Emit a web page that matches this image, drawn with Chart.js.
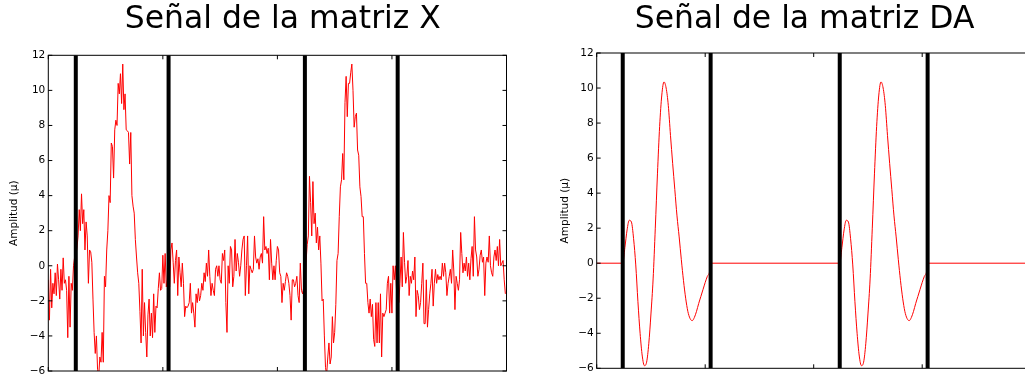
<!DOCTYPE html>
<html>
<head>
<meta charset="utf-8">
<script src="https://cdn.jsdelivr.net/npm/chart.js@4.4.0/dist/chart.umd.min.js"></script>
<style>
  html, body { margin: 0; padding: 0; background: #fff; overflow: hidden; }
  #wrap { position: relative; width: 1025px; height: 378px; overflow: hidden; }
  canvas { position: absolute; top: 0; }
  #chartX { left: 0; }
  #chartDA { left: 555px; }
</style>
</head>
<body>
<div id="wrap">
  <canvas id="chartX" width="565" height="378"></canvas>
  <canvas id="chartDA" width="499" height="378"></canvas>
</div>
<script>
// ---------------------------------------------
// DATA
// ---------------------------------------------
// raw signal (matrix X), one value per sample 0..399
const signalX = [
  -0.8, -3.1, -0.2, -2.4, -1.0, -1.6, -0.4, -1.7, 0.1, -0.8,
  -1.9, -0.2, -1.4, 0.45, -1.0, -0.8, -1.4, -4.1, -0.6, -3.5,
  -1.0, -1.4, 0.0, 0.5, 0.6, 1.0, 1.7, 3.2, 2.0, 4.1,
  2.4, 3.2, 0.9, 2.5, 1.7, -1.0, 0.9, 0.8, 0.2, -1.9,
  -3.8, -5.0, -4.0, -5.9, -6.3, -5.2, -5.5, -3.8, -5.5, -0.6,
  -1.2, 0.9, 2.0, 4.0, 3.6, 7.0, 6.8, 5.0, 7.75, 8.3,
  8.0, 10.4, 9.8, 10.95, 9.25, 11.5, 8.9, 9.8, 7.75, 7.7,
  7.6, 5.8, 7.6, 4.0, 3.4, 3.0, 1.5, 0.5, -0.4, -1.0,
  -2.6, -4.4, -0.2, -4.0, -2.1, -3.8, -5.2, -2.8, -1.9, -4.0,
  -2.7, -4.1, -1.6, -3.8, -2.3, -2.4, -1.3, -0.4, -1.4, -1.3,
  0.6, -1.0, 0.7, -1.2, -0.8, -1.4, -1.2, 0.9, 1.3, 0.2,
  -1.0, 0.3, 0.9, -1.7, 0.5, -0.4, -1.2, 0.15, -1.0, -2.9,
  -2.3, -2.4, -2.3, -2.1, -1.0, -2.7, -2.1, -2.7, -3.5, -1.6,
  -2.1, -1.3, -2.0, -1.7, -1.0, -1.4, -0.4, -0.9, 0.15, -0.6,
  0.9, -0.6, -1.7, -1.0, -1.4, -1.7, -0.2, 0.0, -0.6, 0.0,
  -0.8, -1.0, 0.7, 0.3, 0.9, -2.1, -3.8, 0.0, -1.0, 1.1,
  0.9, -1.2, -0.6, 1.5, -0.3, 0.7, 0.2, -0.6, 0.0, 0.9,
  1.5, 1.7, -1.7, 0.0, 1.7, -1.6, 0.0, -0.2, -0.4, -0.2,
  1.7, 0.5, 0.15, 0.4, -0.2, 0.5, 0.7, 0.15, 2.8, 0.9,
  1.1, 0.7, 1.0, -0.8, 1.5, 0.15, -0.8, 0.0, -0.8, 0.3,
  1.1, 0.9, -0.4, -0.6, -2.1, -1.0, -1.4, -0.9, -0.4, -0.6,
  -1.0, -1.7, -3.1, -0.8, -0.8, -1.2, -1.0, -0.6, -1.7, -2.1,
  0.15, -1.4, -1.6, -1.2, -1.3, 0.2, 1.2, 1.7, 5.1, 3.6,
  1.7, 4.8, 2.4, 3.0, 1.3, 2.2, 0.9, 1.7, 0.15, -2.0,
  -1.9, -4.0, -5.8, -6.2, -5.2, -4.4, -5.6, -5.2, -2.9, -4.4,
  -3.8, -2.2, 0.3, 0.7, 2.8, 4.5, 4.9, 6.4, 4.9, 9.3,
  10.8, 8.5, 10.4, 10.4, 11.0, 11.5, 10.0, 7.9, 8.5, 8.7,
  6.6, 6.3, 4.5, 3.95, 2.8, 2.8, 0.7, -1.0, -1.0, -2.1,
  -2.7, -1.9, -2.9, -2.2, -4.2, -4.6, -2.1, -4.4, -2.1, -4.4,
  -1.6, -5.2, -2.7, -2.9, -2.7, -2.5, -1.0, -0.6, -2.7, -1.0,
  -2.7, 0.0, -0.8, 0.0, -1.4, -0.5, -2.1, -1.0, 0.5, -1.2,
  1.9, 0.2, -1.0, -0.6, 0.3, -1.7, -0.6, -1.0, -0.3, -0.8,
  0.5, -2.9, -1.4, -1.7, -2.5, -2.1, -1.0, 0.15, -3.3, -3.3,
  -0.8, -3.5, -2.5, -1.6, -1.0, -0.2, -2.3, -1.0, -0.2, -1.0,
  -0.5, -0.8, -0.6, -0.8, 0.15, -0.6, 0.15, -0.4, -1.7, -1.0,
  -0.6, -0.2, -1.0, 0.9, -0.3, -2.5, -0.6, -1.0, -1.4, -0.8,
  1.9, 0.7, -0.4, 0.15, -0.3, 0.5, -0.6, 0.15, -0.8, 0.4,
  1.1, -0.6, 2.8, 0.9, 0.5, -0.6, -0.2, 0.6, 0.9, 0.2,
  0.5, -1.7, 0.15, 0.5, 0.2, 1.7, 0.0, -0.4, -0.6, 0.5,
  0.9, 0.3, 1.1, 0.0, 1.5, 0.0, 0.15, 0.3, -0.8, -1.6
];

// DA response inside one epoch (time relative to onset)
const daTimes = [
  0, 2, 4, 6, 8, 10, 12, 14, 16, 18, 20, 22, 24, 26, 28, 30, 32, 34, 36, 38,
  40, 42, 44, 46, 48, 50, 52, 54, 56, 58, 60, 62, 64, 66, 68, 70, 72, 74, 76, 78, 80
];
const daEpoch = [
  0.0, 0.9, 1.9, 2.45, 2.35, 1.4, -0.1, -2.2, -4.0, -5.3,
  -5.85, -5.65, -4.6, -2.9, -0.9, 2.0, 5.1, 7.8, 9.6, 10.35,
  10.0, 9.0, 7.3, 5.7, 4.2, 2.7, 1.5, 0.2, -1.0, -2.0,
  -2.75, -3.15, -3.28, -3.1, -2.75, -2.3, -1.9, -1.5, -1.1, -0.75, -0.5
];
const epochOnsets = [24, 224];
const epochEnds = [105, 305];

// thick black markers (epoch borders)
const markerTimes = [24, 105, 224, 305];

const yTicks = [-6, -4, -2, 0, 2, 4, 6, 8, 10, 12];
const xTicks = [0, 100, 200, 300, 400];

// ---------------------------------------------
// GLOBAL DEFAULT
// ---------------------------------------------
Chart.defaults.font.family = "'DejaVu Sans', sans-serif";
Chart.defaults.color = '#000';
Chart.defaults.animation = false;

const xPoints = signalX.map((v, i) => ({ x: i, y: v }));

const daPoints = [{ x: 0, y: 0 }];
epochOnsets.forEach((t0, k) => {
    daTimes.forEach((t, i) => daPoints.push({ x: t0 + t, y: daEpoch[i] }));
    daPoints.push({ x: epochEnds[k], y: 0 });
});
daPoints.push({ x: xTicks[xTicks.length - 1], y: 0 });

// frame with inward ticks (classic matplotlib look)
const axesFrame = {
    id: 'axesFrame',
    afterDatasetsDraw(chart) {
        const { ctx, chartArea: a, scales: { x, y } } = chart;
        ctx.save();
        ctx.strokeStyle = '#000';
        ctx.lineWidth = 1;
        ctx.strokeRect(a.left, a.top, a.right - a.left, a.bottom - a.top);
        ctx.beginPath();
        yTicks.forEach(v => {
            const py = y.getPixelForValue(v);
            ctx.moveTo(a.left, py); ctx.lineTo(a.left + 4, py);
            ctx.moveTo(a.right, py); ctx.lineTo(a.right - 4, py);
        });
        xTicks.forEach(v => {
            const px = x.getPixelForValue(v);
            ctx.moveTo(px, a.bottom); ctx.lineTo(px, a.bottom - 4);
            ctx.moveTo(px, a.top); ctx.lineTo(px, a.top + 4);
        });
        ctx.stroke();
        ctx.restore();
    }
};

const panelTitle = {
    id: 'panelTitle',
    afterDraw(chart, args, opts) {
        const ctx = chart.ctx;
        ctx.save();
        ctx.font = "31.4px 'DejaVu Sans'";
        ctx.fillStyle = '#000';
        ctx.textAlign = 'center';
        ctx.textBaseline = 'alphabetic';
        ctx.fillText(opts.text, opts.x, opts.y);
        ctx.restore();
    }
};

function makeChart(id, points, cfg) {
    const markers = markerTimes.map(t => ({
        data: [{ x: t, y: yTicks[0] }, { x: t, y: yTicks[yTicks.length - 1] }],
        borderColor: '#000',
        borderWidth: 4,
        borderCapStyle: 'butt',
        pointRadius: 0,
        order: 0
    }));

    return new Chart(document.getElementById(id), {
        type: 'line',
        data: {
            datasets: [
                ...markers,
                {
                    data: points,
                    borderColor: '#ff0000',
                    borderWidth: 1,
                    pointRadius: 0,
                    clip: 0,
                    cubicInterpolationMode: cfg.smooth ? 'monotone' : 'default',
                    tension: 0,
                    order: 1
                }
            ]
        },
        options: {
            responsive: false,
            devicePixelRatio: 1,
            animation: false,
            events: [],
            layout: { padding: cfg.padding },
            scales: {
                x: {
                    type: 'linear',
                    min: xTicks[0],
                    max: xTicks[xTicks.length - 1],
                    display: false
                },
                y: {
                    min: yTicks[0],
                    max: yTicks[yTicks.length - 1],
                    afterFit: s => {
                        s.width = cfg.yWidth;
                        s.paddingTop = 0;
                        s.paddingBottom = 0;
                    },
                    grid: { display: false, drawTicks: false },
                    border: { display: false },
                    ticks: {
                        stepSize: 2,
                        padding: 3,
                        color: '#000',
                        font: { size: 10.5 },
                        callback: v => String(v).replace('-', '\u2212')
                    },
                    title: {
                        display: true,
                        text: 'Amplitud (µ)',
                        color: '#000',
                        font: { size: 10.5 },
                        padding: { top: cfg.labelPad, bottom: 0 }
                    }
                }
            },
            plugins: {
                legend: { display: false },
                tooltip: { enabled: false },
                panelTitle: { text: cfg.title, x: cfg.titleX, y: 28 }
            }
        },
        plugins: [axesFrame, panelTitle]
    });
}

// =====================================================
// SEÑAL X (left)
// =====================================================
makeChart('chartX', xPoints, {
    title: 'Señal de la matriz X',
    titleX: 282.8,
    padding: { left: 0, right: 58.5, top: 55.3, bottom: 7 },
    yWidth: 48.3,
    labelPad: 8,
    smooth: false
});

// =====================================================
// SEÑAL DA (right)
// =====================================================
makeChart('chartDA', daPoints, {
    title: 'Señal de la matriz DA',
    titleX: 249.6,
    padding: { left: 0, right: 23.3, top: 53, bottom: 9.7 },
    yWidth: 41.7,
    labelPad: 4,
    smooth: true
});
</script>
</body>
</html>
